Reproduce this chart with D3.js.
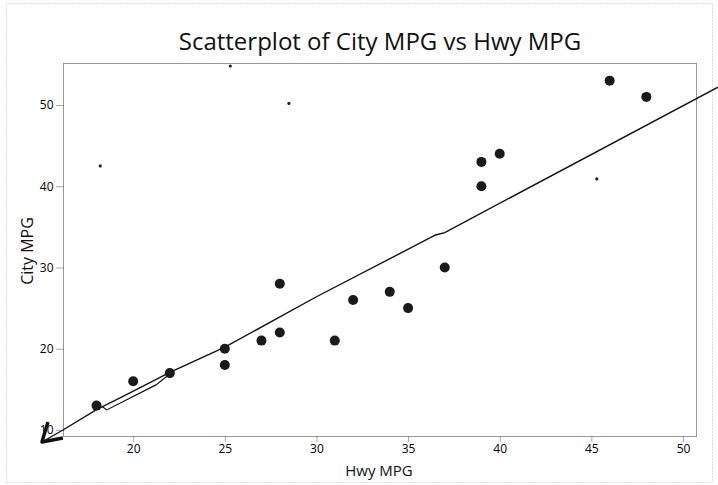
<!DOCTYPE html>
<html>
<head>
<meta charset="utf-8">
<script src="https://cdn.jsdelivr.net/npm/d3@7"></script>
<style>
  body { margin: 0; background: #fff; }
  text { font-family: "Open Sans", "Noto Sans", sans-serif; }
</style>
</head>
<body>
<div id="chart"></div>
<script>
var hwy  = [18, 20, 22, 25, 25, 27, 28, 28, 31, 32, 34, 35, 37, 39, 39, 40, 46, 48];
var city = [13, 16, 17, 20, 18, 21, 28, 22, 21, 26, 27, 25, 30, 43, 40, 44, 53, 51];

// the line drawn over the plot (by hand, a bit wobbly)
var lineX = [15.02, 16.17, 18, 19.5, 22, 25, 30, 36.5, 37, 51.91];
var lineY = [8.52, 10, 12.5, 14.2, 17.1, 20.2, 26.4, 34.0, 34.3, 52.2];
var lineX2 = [18.3, 18.56, 21.24, 22];
var lineY2 = [12.9, 12.47, 15.55, 16.9];

// specks from the scan
var speckX = [25.3, 28.5, 18.2, 45.3];
var speckY = [54.8, 50.2, 42.5, 40.9];

var xTicks = [20, 25, 30, 35, 40, 45, 50];
var yTicks = [10, 20, 30, 40, 50];

var W = 718, H = 485;
var mLeft = 63, mRight = 696, mTop = 63, mBottom = 436;

var svg = d3.select("#chart").append("svg")
    .attr("width", W)
    .attr("height", H);

// outer frame
svg.append("rect")
    .attr("x", 6.5).attr("y", 3.5)
    .attr("width", 706).attr("height", 479)
    .attr("fill", "none")
    .attr("stroke", "#bbb")
    .attr("stroke-dasharray", "1,2");

var x = d3.scaleLinear().domain([16.17, 50.71]).range([mLeft, mRight]);
var y = d3.scaleLinear().domain([9.26, 55.17]).range([mBottom, mTop]);

// plot frame
svg.append("rect")
    .attr("x", mLeft + 0.5).attr("y", mTop + 0.5)
    .attr("width", mRight - mLeft).attr("height", mBottom - mTop)
    .attr("fill", "none")
    .attr("stroke", "#333")
    .attr("stroke-dasharray", "1,1");

var xAxis = svg.append("g")
    .attr("transform", "translate(0," + (mBottom + 0.5) + ")")
    .call(d3.axisBottom(x).tickValues(xTicks).tickSize(5).tickPadding(3));
var yAxis = svg.append("g")
    .attr("transform", "translate(" + (mLeft + 0.5) + ",0)")
    .call(d3.axisLeft(y).tickValues(yTicks).tickSize(8).tickPadding(2));

[xAxis, yAxis].forEach(function (a) {
  a.select(".domain").remove();
  a.selectAll(".tick line").attr("stroke", "#555").attr("stroke-dasharray", "1,1");
  a.selectAll(".tick text")
      .attr("font-size", "12px")
      .attr("fill", "#000")
      .style("font-family", "'Open Sans', sans-serif");
});

// title and axis labels
svg.append("text")
    .attr("x", 380).attr("y", 50)
    .attr("text-anchor", "middle")
    .attr("font-size", "24px")
    .attr("fill", "#111")
    .text("Scatterplot of City MPG vs Hwy MPG");

svg.append("text")
    .attr("x", 379).attr("y", 476)
    .attr("text-anchor", "middle")
    .attr("font-size", "15px")
    .attr("fill", "#111")
    .text("Hwy MPG");

svg.append("text")
    .attr("transform", "translate(33,251) rotate(-90)")
    .attr("text-anchor", "middle")
    .attr("font-size", "16px")
    .attr("fill", "#111")
    .text("City MPG");

// hand line
var line = d3.line()
    .x(function (d) { return x(d[0]); })
    .y(function (d) { return y(d[1]); });

svg.append("path")
    .datum(d3.zip(lineX, lineY))
    .attr("d", line)
    .attr("fill", "none")
    .attr("stroke", "#111")
    .attr("stroke-width", 1.4);
svg.append("path")
    .datum(d3.zip(lineX2, lineY2))
    .attr("d", line)
    .attr("fill", "none")
    .attr("stroke", "#111")
    .attr("stroke-width", 1.2);

// scribbled mark at the start of the line
var ax = x(lineX[0]), ay = y(lineY[0]);
svg.append("path")
    .attr("d", "M" + (ax + 6) + "," + (ay - 20) + " L" + ax + "," + ay
      + " L" + (ax + 21) + "," + (ay - 4))
    .attr("fill", "none")
    .attr("stroke", "#111")
    .attr("stroke-width", 3.4)
    .attr("stroke-linejoin", "round");

// points
svg.selectAll("circle.pt")
    .data(d3.zip(hwy, city))
    .enter().append("circle")
    .attr("class", "pt")
    .attr("cx", function (d) { return x(d[0]); })
    .attr("cy", function (d) { return y(d[1]); })
    .attr("r", 5)
    .attr("fill", "#1a1a1a");

svg.selectAll("circle.speck")
    .data(d3.zip(speckX, speckY))
    .enter().append("circle")
    .attr("class", "speck")
    .attr("cx", function (d) { return x(d[0]); })
    .attr("cy", function (d) { return y(d[1]); })
    .attr("r", 1.6)
    .attr("fill", "#222");
</script>
</body>
</html>
